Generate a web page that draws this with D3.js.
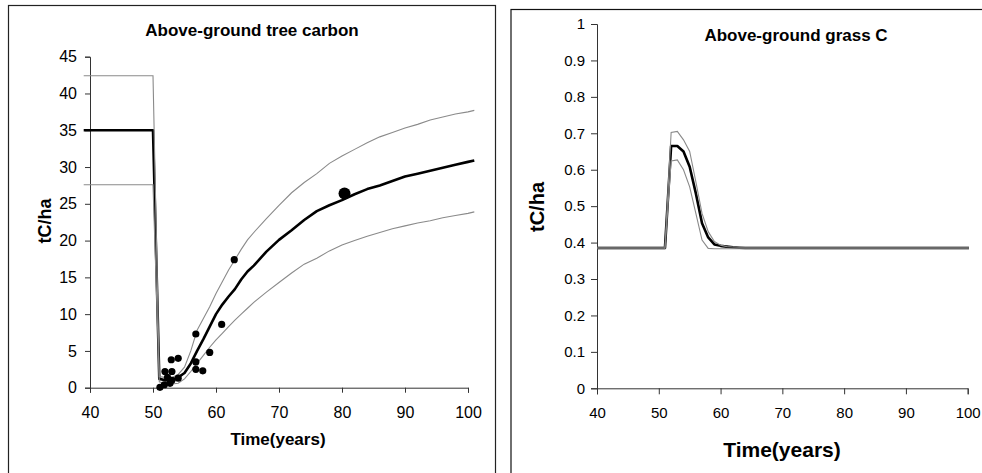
<!DOCTYPE html>
<meta charset="utf-8">
<script src="https://cdn.jsdelivr.net/npm/d3@7"></script>
<style>
  body { margin: 0; background: #fff; }
  svg { display: block; font-family: "Liberation Sans", Arial, sans-serif; }
</style>
<svg id="chart" width="982" height="473"></svg>

<script>
// ---- tree carbon (left panel) ----
var treeYears = [39, 50, 51, 52, 53, 54, 55, 56, 57, 58, 59, 60, 61, 62, 63, 64, 65, 66, 68, 70,
                 72, 74, 76, 78, 80, 82, 84, 86, 88, 90, 92, 94, 96, 98, 100, 101];
var treeMean  = [35, 35, 1.2, 1.0, 1.1, 1.4, 2.0, 3.3, 5.0, 6.6, 8.3, 10.0, 11.3, 12.4, 13.4, 14.7, 15.8, 16.6, 18.5, 20.1,
                 21.4, 22.8, 24.0, 24.8, 25.5, 26.3, 27.0, 27.5, 28.1, 28.7, 29.1, 29.5, 29.9, 30.3, 30.7, 30.9];
var treeUpper = [42.4, 42.4, 1.5, 1.4, 1.4, 1.8, 2.8, 5.0, 7.8, 9.4, 11.0, 12.8, 14.4, 16.0, 17.4, 18.8, 20.1, 21.1, 23.0, 24.8,
                 26.5, 27.9, 29.1, 30.5, 31.5, 32.4, 33.3, 34.1, 34.7, 35.3, 35.8, 36.4, 36.8, 37.2, 37.5, 37.7];
var treeLower = [27.6, 27.6, 0.8, 0.5, 0.5, 0.6, 1.2, 2.2, 3.3, 4.4, 5.5, 6.5, 7.4, 8.3, 9.2, 10.0, 10.8, 11.6, 13.0, 14.3,
                 15.6, 16.8, 17.6, 18.6, 19.4, 20.0, 20.6, 21.1, 21.6, 22.0, 22.4, 22.7, 23.1, 23.4, 23.7, 23.9];

// field observations
var obsYears  = [51.1, 51.8, 51.9, 52.3, 52.7, 53.0, 52.9, 53.0, 54.0, 54.0, 56.8, 56.8, 56.8, 57.9, 59.0, 60.9, 62.9];
var obsValues = [0.05, 0.4, 2.2, 1.4, 0.6, 2.2, 3.8, 1.0, 4.0, 1.3, 7.3, 3.5, 2.5, 2.3, 4.8, 8.6, 17.4];
var bigObsYear = [80.4];
var bigObsValue = [26.4];

var treeYTicks = [0, 5, 10, 15, 20, 25, 30, 35, 40, 45];

// ---- grass carbon (right panel) ----
var grassYears = [40, 51, 52, 53, 54, 55, 56, 57, 58, 59, 60, 61, 62, 63, 64, 65, 100.2];
var grassMean  = [0.385, 0.385, 0.665, 0.665, 0.650, 0.608, 0.535, 0.453, 0.414, 0.395, 0.391, 0.389, 0.387, 0.386, 0.385, 0.385, 0.385];
var grassUpper = [0.387, 0.387, 0.702, 0.705, 0.682, 0.650, 0.567, 0.480, 0.430, 0.403, 0.393, 0.389, 0.388, 0.387, 0.387, 0.387, 0.387];
var grassLower = [0.383, 0.383, 0.624, 0.627, 0.600, 0.553, 0.480, 0.407, 0.384, 0.383, 0.383, 0.383, 0.383, 0.383, 0.383, 0.383, 0.383];

var grassYTicks = [0, 0.1, 0.2, 0.3, 0.4, 0.5, 0.6, 0.7, 0.8, 0.9, 1];
var xTicks = [40, 50, 60, 70, 80, 90, 100];

var svg = d3.select("#chart");

// panel frames (bottom / right run off the picture)
svg.append("rect").attr("x", 8.5).attr("y", 5.5).attr("width", 487).attr("height", 480)
   .attr("fill", "none").attr("stroke", "#222").attr("stroke-width", 1.2);
svg.append("rect").attr("x", 511).attr("y", 9.5).attr("width", 480).attr("height", 480)
   .attr("fill", "none").attr("stroke", "#111").attr("stroke-width", 1.2);

function zip(xs, ys){
	return xs.map(function(d, i){ return [d, ys[i]]; });
}

function drawPanel(o){
	var x = d3.scaleLinear().domain([40, 100]).range([o.x0, o.x1]);
	var y = d3.scaleLinear().domain(o.yDomain).range([o.y0, o.y1]);
	var g = svg.append("g");

	var xAxis = g.append("g")
		.attr("transform", "translate(0," + o.y0 + ")")
		.call(d3.axisBottom(x).tickValues(xTicks).tickSizeOuter(0).tickSize(o.tick).tickPadding(o.xPad));
	var yAxis = g.append("g")
		.attr("transform", "translate(" + o.x0 + ",0)")
		.call(d3.axisLeft(y).tickValues(o.yTicks).tickSizeOuter(0).tickSize(o.tick).tickPadding(o.yPad)
			.tickFormat(o.fmt));

	[xAxis, yAxis].forEach(function(a){
		a.selectAll("path, line").attr("stroke", "#333");
		a.selectAll("text").attr("fill", "#000").style("font-size", o.tickFont + "px")
			.style("font-family", '"Liberation Sans", Arial, sans-serif');
	});

	var line = d3.line()
		.x(function(d){ return x(d[0]); })
		.y(function(d){ return y(d[1]); });

	g.append("path").datum(zip(o.years, o.mean)).attr("d", line)
		.attr("fill", "none").attr("stroke", "#000").attr("stroke-width", 2.6)
		.attr("stroke-linejoin", "round");
	[o.upper, o.lower].forEach(function(s){
		g.append("path").datum(zip(o.years, s)).attr("d", line)
			.attr("fill", "none").attr("stroke", "#8a8a8a").attr("stroke-width", 1.1);
	});

	if (o.obs){
		g.selectAll("circle.obs").data(o.obs).enter().append("circle")
			.attr("class", "obs")
			.attr("cx", function(d){ return x(d[0]); })
			.attr("cy", function(d){ return y(d[1]); })
			.attr("r", 3.6).attr("fill", "#000");
		g.selectAll("circle.big").data(o.big).enter().append("circle")
			.attr("class", "big")
			.attr("cx", function(d){ return x(d[0]); })
			.attr("cy", function(d){ return y(d[1]); })
			.attr("r", 6).attr("fill", "#000");
	}

	g.append("text").attr("x", o.titleX).attr("y", o.titleY)
		.attr("text-anchor", "middle").attr("font-weight", "bold")
		.style("font-size", o.titleFont + "px").text(o.title);

	g.append("text").attr("x", o.xLabX).attr("y", o.xLabY)
		.attr("text-anchor", "middle").attr("font-weight", "bold")
		.style("font-size", o.xLabFont + "px").text("Time(years)");

	g.append("text")
		.attr("transform", "translate(" + o.yLabX + "," + o.yLabY + ") rotate(-90)")
		.attr("text-anchor", "middle").attr("font-weight", "bold")
		.style("font-size", o.yLabFont + "px").text("tC/ha");
}

drawPanel({
	x0: 90, x1: 468, y0: 387.7, y1: 56.7, yDomain: [0, 45], yTicks: treeYTicks,
	fmt: d3.format("d"), tick: 5, xPad: 14, yPad: 8, tickFont: 16,
	years: treeYears, mean: treeMean, upper: treeUpper, lower: treeLower,
	obs: zip(obsYears, obsValues), big: zip(bigObsYear, bigObsValue),
	title: "Above-ground tree carbon", titleX: 252, titleY: 36, titleFont: 17,
	xLabX: 278, xLabY: 445, xLabFont: 17,
	yLabX: 51, yLabY: 221, yLabFont: 18
});

drawPanel({
	x0: 597, x1: 967.7, y0: 388.3, y1: 24, yDomain: [0, 1], yTicks: grassYTicks,
	fmt: function(d){ return d === 0 || d === 1 ? String(d) : d3.format(".1f")(d); },
	tick: 6, xPad: 13, yPad: 6, tickFont: 15,
	years: grassYears, mean: grassMean, upper: grassUpper, lower: grassLower,
	title: "Above-ground grass C", titleX: 796, titleY: 41, titleFont: 17,
	xLabX: 782, xLabY: 457, xLabFont: 21,
	yLabX: 544, yLabY: 207, yLabFont: 20
});
</script>
